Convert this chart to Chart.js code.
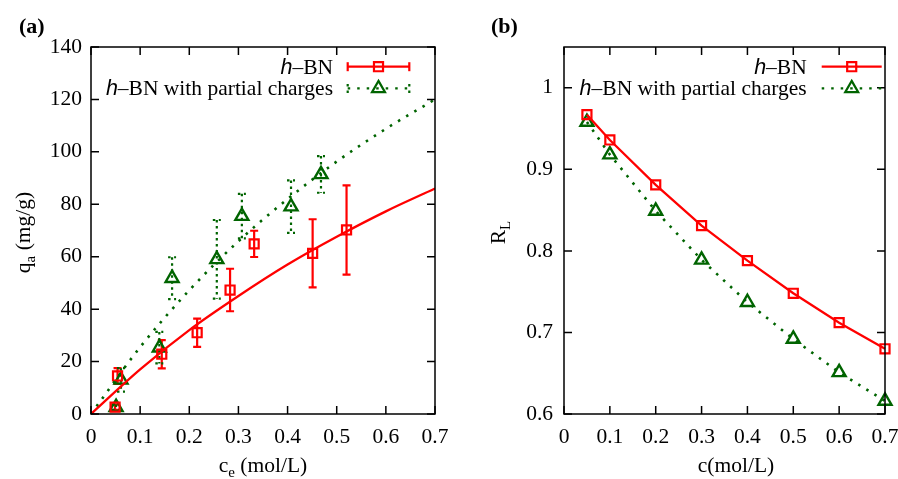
<!DOCTYPE html>
<html>
<head>
<meta charset="utf-8">
<script src="https://cdn.jsdelivr.net/npm/chart.js@4.4.1/dist/chart.umd.min.js"></script>
<style>
  body { margin: 0; background: #fff; }
  #wrap { position: relative; width: 898px; height: 479px; }
  .panel { position: absolute; top: 0; width: 449px; height: 479px; }
  #panelA { left: 0; }
  #panelB { left: 449px; }
</style>
</head>
<body>
<div id="wrap">
  <div class="panel" id="panelA"><canvas id="chartA" width="449" height="479"></canvas></div>
  <div class="panel" id="panelB"><canvas id="chartB" width="449" height="479"></canvas></div>
</div>
<script>
// (a) adsorption points with error bars
const adsX_hbn = [0.049, 0.054, 0.144, 0.216, 0.283, 0.332, 0.451, 0.520];
const adsY_hbn = [2.6, 14.5, 22.8, 31.0, 47.3, 64.9, 61.3, 70.2];
const adsErr_hbn = [1.0, 3.0, 5.4, 5.4, 8.1, 5.0, 13.0, 17.0];
const adsX_pc = [0.051, 0.061, 0.139, 0.165, 0.256, 0.307, 0.407, 0.468];
const adsY_pc = [2.6, 13.0, 25.3, 51.8, 59.0, 75.5, 79.1, 91.4];
const adsErr_pc = [1.0, 4.5, 6.0, 8.0, 15.0, 8.5, 10.0, 7.0];

// (a) fitted isotherms
const fitX = [0, 0.1, 0.2, 0.3, 0.4, 0.5, 0.6, 0.7];
const fitY_hbn = [0, 17, 32, 45, 57, 67.6, 77.3, 86];
const fitY_pc = [0, 25.5, 47.2, 65.9, 82, 96.3, 108.8, 120];

// (b) separation factor
const rlX = [0.05, 0.1, 0.2, 0.3, 0.4, 0.5, 0.6, 0.7];
const rlY_hbn = [0.967, 0.936, 0.881, 0.831, 0.788, 0.748, 0.712, 0.680];
const rlY_pc = [0.958, 0.918, 0.849, 0.789, 0.737, 0.692, 0.651, 0.616];

// ticks
const xTicks = [0, 0.1, 0.2, 0.3, 0.4, 0.5, 0.6, 0.7];
const yTicksA = [0, 20, 40, 60, 80, 100, 120, 140];
const yTicksB = [0.6, 0.7, 0.8, 0.9, 1];

const RED = '#ff0000';
const GREEN = '#006400';
const SERIF = '"Liberation Serif", "DejaVu Serif", serif';
const SANS = '"Liberation Sans", Arial, sans-serif';
const FS = 21.5;
const F = FS + 'px ' + SERIF;
const FSUB = '15px ' + SERIF;
const DOTS = [2.5, 7];

const toPoints = (xs, ys) => xs.map((x, i) => ({ x, y: ys[i] }));

function drawRich(ctx, parts, x, y, align) {
  const widths = parts.map(p => { ctx.font = p.font; return ctx.measureText(p.t).width; });
  const total = widths.reduce((a, b) => a + b, 0);
  let cx = align === 'center' ? x - total / 2 : align === 'right' ? x - total : x;
  ctx.textAlign = 'left';
  ctx.textBaseline = 'alphabetic';
  parts.forEach((p, i) => {
    ctx.font = p.font;
    ctx.fillText(p.t, cx, y + (p.dy || 0));
    cx += widths[i];
  });
}

function vline(ctx, x, y1, y2, cap, dash) {
  ctx.setLineDash(dash || []);
  ctx.beginPath();
  ctx.moveTo(x, y1);
  ctx.lineTo(x, y2);
  if (cap) {
    ctx.moveTo(x - cap, y1); ctx.lineTo(x + cap, y1);
    ctx.moveTo(x - cap, y2); ctx.lineTo(x + cap, y2);
  }
  ctx.stroke();
  ctx.setLineDash([]);
}

const decorPlugin = {
  id: 'decor',
  beforeDatasetsDraw(chart) {
    const { ctx, scales: { x, y } } = chart;
    chart.data.datasets.forEach(ds => {
      if (!ds.errors) return;
      ctx.save();
      ctx.strokeStyle = ds.borderColor;
      ctx.lineWidth = 2.2;
      ds.data.forEach((p, i) => {
        const e = ds.errors[i];
        vline(ctx, x.getPixelForValue(p.x), y.getPixelForValue(p.y + e), y.getPixelForValue(p.y - e), 4, ds.errDash);
      });
      ctx.restore();
    });
  },
  afterDraw(chart, args, opts) {
    const { ctx, chartArea: a, scales: { x, y } } = chart;
    ctx.save();
    // frame + inward ticks on all sides
    ctx.strokeStyle = '#000';
    ctx.lineWidth = 1.5;
    ctx.strokeRect(a.left, a.top, a.right - a.left, a.bottom - a.top);
    ctx.beginPath();
    x.ticks.forEach(t => {
      const px = x.getPixelForValue(t.value);
      ctx.moveTo(px, a.bottom); ctx.lineTo(px, a.bottom - 8);
      ctx.moveTo(px, a.top); ctx.lineTo(px, a.top + 8);
    });
    y.ticks.forEach(t => {
      const py = y.getPixelForValue(t.value);
      ctx.moveTo(a.left, py); ctx.lineTo(a.left + 8, py);
      ctx.moveTo(a.right, py); ctx.lineTo(a.right - 8, py);
    });
    ctx.stroke();

    ctx.fillStyle = '#000';
    // panel label
    ctx.font = 'bold 22px ' + SERIF;
    ctx.textAlign = 'left';
    ctx.textBaseline = 'alphabetic';
    ctx.fillText(opts.label, opts.labelX, 33);

    // x title
    drawRich(ctx, opts.xTitle, opts.xTitleX, 472, 'center');
    // y title, rotated
    ctx.save();
    ctx.translate(opts.yTitleX, (a.top + a.bottom) / 2 + 2);
    ctx.rotate(-Math.PI / 2);
    drawRich(ctx, opts.yTitle, 0, 0, 'center');
    ctx.restore();

    // legend
    const lg = opts.legend;
    lg.rows.forEach((row, i) => {
      const ly = 66.7 + i * 21.7;
      ctx.fillStyle = '#000';
      drawRich(ctx, row.text, lg.textRight, ly + 7, 'right');
      ctx.strokeStyle = row.color;
      ctx.lineWidth = 2.2;
      ctx.setLineDash(row.dash || []);
      ctx.beginPath();
      ctx.moveTo(lg.x1, ly); ctx.lineTo(lg.x2, ly);
      ctx.stroke();
      ctx.setLineDash([]);
      if (lg.caps) {
        vline(ctx, lg.x1, ly - 4.5, ly + 4.5, 0, row.dash ? [2.5, 4] : null);
        vline(ctx, lg.x2, ly - 4.5, ly + 4.5, 0, row.dash ? [2.5, 4] : null);
      }
      ctx.lineWidth = 2.2;
      ctx.fillStyle = 'rgba(0,0,0,0)';
      Chart.helpers.drawPoint(ctx, { pointStyle: row.style, radius: row.radius, borderWidth: 2.2, rotation: 0 }, (lg.x1 + lg.x2) / 2, ly);
    });
    ctx.restore();
  }
};

const legendText = [
  [{ t: 'h', font: 'italic ' + FS + 'px ' + SANS }, { t: '–BN', font: F }],
  [{ t: 'h', font: 'italic ' + FS + 'px ' + SANS }, { t: '–BN with partial charges', font: F }]
];

function axisOptions(min, max, ticks, side, size, pad, fmt) {
  return {
    type: 'linear',
    min, max,
    grid: { display: false, drawTicks: false },
    border: { display: false },
    afterBuildTicks: s => { s.ticks = ticks.map(v => ({ value: v })); },
    afterFit: s => {
      if (side === 'y') s.width = size; else s.height = size;
      // keep the plot box where the layout padding puts it
      s.paddingLeft = 0; s.paddingRight = 0; s.paddingTop = 0; s.paddingBottom = 0;
    },
    ticks: {
      color: '#000',
      padding: pad,
      font: { family: SERIF, size: FS },
      callback: fmt
    }
  };
}

const fmtX = v => (v === 0 ? '0' : v.toFixed(1));

function drawPanelA(ctx) {
  new Chart(ctx, {
    type: 'scatter',
    data: {
      datasets: [
        { data: toPoints(fitX, fitY_hbn), showLine: true, borderColor: RED, borderWidth: 2.3, pointRadius: 0, cubicInterpolationMode: 'monotone' },
        { data: toPoints(fitX, fitY_pc), showLine: true, borderColor: GREEN, borderWidth: 2.6, borderDash: DOTS, pointRadius: 0, cubicInterpolationMode: 'monotone' },
        { data: toPoints(adsX_hbn, adsY_hbn), errors: adsErr_hbn, borderColor: RED, backgroundColor: 'rgba(0,0,0,0)', pointStyle: 'rect', pointRadius: 6.4, pointBorderWidth: 2.2, clip: false },
        { data: toPoints(adsX_pc, adsY_pc), errors: adsErr_pc, errDash: [2.5, 3.5], borderColor: GREEN, backgroundColor: 'rgba(0,0,0,0)', pointStyle: 'triangle', pointRadius: 7.5, pointBorderWidth: 2.4, clip: false }
      ]
    },
    options: {
      responsive: false,
      animation: false,
      layout: { padding: { top: 47, right: 14, left: 0, bottom: 0 } },
      plugins: {
        legend: { display: false },
        tooltip: { enabled: false },
        decor: {
          label: '(a)', labelX: 19,
          xTitle: [{ t: 'c', font: F }, { t: 'e', font: FSUB, dy: 5 }, { t: ' (mol/L)', font: F }],
          xTitleX: 263,
          yTitle: [{ t: 'q', font: F }, { t: 'a', font: FSUB, dy: 5 }, { t: ' (mg/g)', font: F }],
          yTitleX: 30,
          legend: {
            textRight: 333, x1: 347.7, x2: 409.3, caps: true,
            rows: [
              { text: legendText[0], color: RED, style: 'rect', radius: 6.4 },
              { text: legendText[1], color: GREEN, dash: DOTS, style: 'triangle', radius: 7.5 }
            ]
          }
        }
      },
      scales: {
        x: axisOptions(0, 0.7, xTicks, 'x', 65, 10, fmtX),
        y: axisOptions(0, 140, yTicksA, 'y', 91, 9, v => String(v))
      }
    },
    plugins: [decorPlugin]
  });
}

function drawPanelB(ctx) {
  new Chart(ctx, {
    type: 'scatter',
    data: {
      datasets: [
        { data: toPoints(rlX, rlY_hbn), showLine: true, borderColor: RED, borderWidth: 2.3, backgroundColor: 'rgba(0,0,0,0)', pointStyle: 'rect', pointRadius: 6.4, pointBorderWidth: 2.2, clip: false },
        { data: toPoints(rlX, rlY_pc), showLine: true, borderColor: GREEN, borderWidth: 2.6, borderDash: DOTS, backgroundColor: 'rgba(0,0,0,0)', pointStyle: 'triangle', pointRadius: 7.5, pointBorderWidth: 2.4, clip: false }
      ]
    },
    options: {
      responsive: false,
      animation: false,
      layout: { padding: { top: 47, right: 13, left: 0, bottom: 0 } },
      plugins: {
        legend: { display: false },
        tooltip: { enabled: false },
        decor: {
          label: '(b)', labelX: 42,
          xTitle: [{ t: 'c(mol/L)', font: F }],
          xTitleX: 287,
          yTitle: [{ t: 'R', font: F }, { t: 'L', font: FSUB, dy: 5 }],
          yTitleX: 56,
          legend: {
            textRight: 357.7, x1: 372.7, x2: 432.7, caps: false,
            rows: [
              { text: legendText[0], color: RED, style: 'rect', radius: 6.4 },
              { text: legendText[1], color: GREEN, dash: DOTS, style: 'triangle', radius: 7.5 }
            ]
          }
        }
      },
      scales: {
        x: axisOptions(0, 0.7, xTicks, 'x', 65, 10, fmtX),
        y: axisOptions(0.6, 1.05, yTicksB, 'y', 115, 11, v => (v === 1 ? '1' : v.toFixed(1)))
      }
    },
    plugins: [decorPlugin]
  });
}

window.addEventListener('DOMContentLoaded', () => {
  drawPanelA(document.getElementById('chartA'));
  drawPanelB(document.getElementById('chartB'));
});
</script>
</body>
</html>
